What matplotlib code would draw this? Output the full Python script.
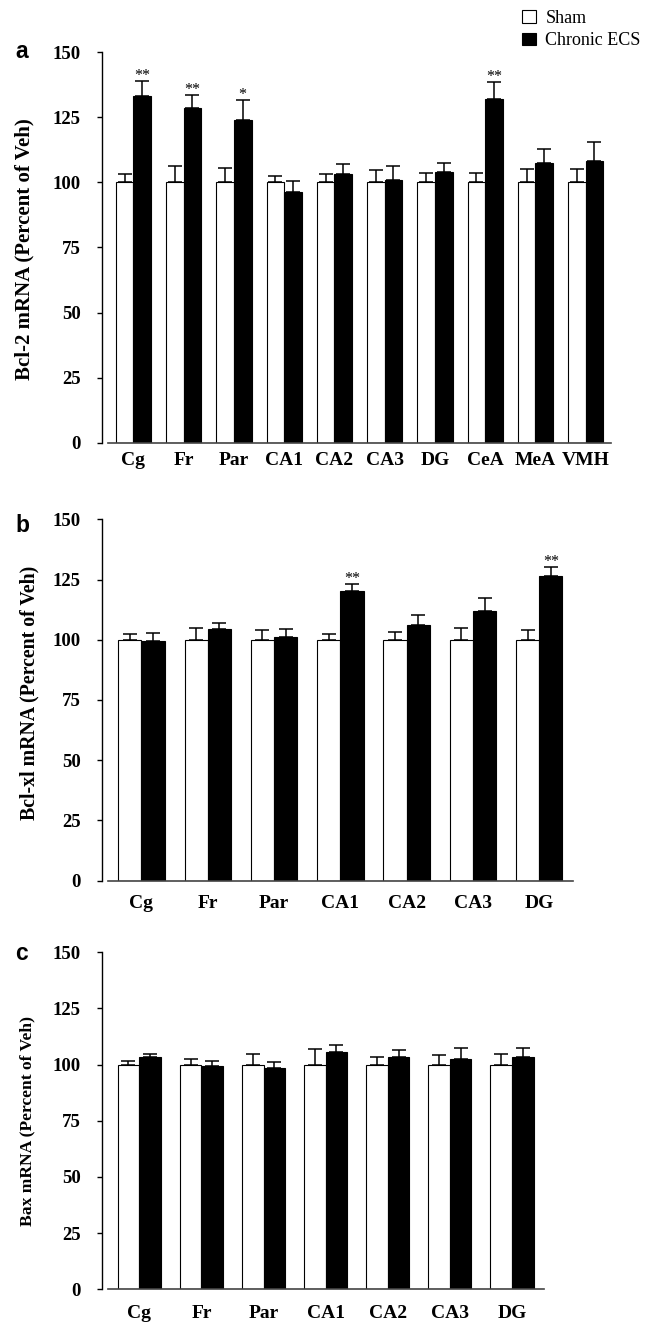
import matplotlib
matplotlib.use("Agg")
import matplotlib.pyplot as plt
from matplotlib.patches import Patch
import numpy as np

W, H = 659, 1323

# panel a: Bcl-2
cats_a = ["Cg", "Fr", "Par", "CA1", "CA2", "CA3", "DG", "CeA", "MeA", "VMH"]
sham_a = [100, 100, 100, 100, 100, 100, 100, 100, 100, 100]
sham_err_a = [3.4, 6.4, 5.5, 2.4, 3.4, 4.6, 3.7, 3.8, 5.1, 5.0]
ecs_a = [133.3, 128.6, 124.1, 96.2, 103.2, 101.1, 104.1, 132.2, 107.3, 108.3]
ecs_err_a = [5.6, 4.9, 7.6, 4.4, 3.7, 5.2, 3.4, 6.3, 5.4, 7.3]
sig_a = ["**", "**", "*", "", "", "", "", "**", "", ""]

# panel b: Bcl-xl
cats_b = ["Cg", "Fr", "Par", "CA1", "CA2", "CA3", "DG"]
sham_b = [100, 100, 100, 100, 100, 100, 100]
sham_err_b = [2.5, 4.8, 4.0, 2.3, 3.4, 4.7, 4.1]
ecs_b = [99.5, 104.4, 101.2, 120.1, 106.0, 112.1, 126.4]
ecs_err_b = [3.5, 2.6, 3.2, 3.0, 4.2, 5.2, 3.8]
sig_b = ["", "", "", "**", "", "", "**"]

# panel c: Bax
cats_c = ["Cg", "Fr", "Par", "CA1", "CA2", "CA3", "DG"]
sham_c = [100, 100, 100, 100, 100, 100, 100]
sham_err_c = [1.5, 2.4, 4.6, 7.0, 3.3, 4.5, 4.6]
ecs_c = [103.4, 99.3, 98.5, 105.7, 103.4, 102.4, 103.4]
ecs_err_c = [1.2, 2.2, 2.5, 2.9, 3.3, 5.2, 3.9]
sig_c = ["", "", "", "", "", "", ""]

yticks = [0, 25, 50, 75, 100, 125, 150]
legend_labels = ["Sham", "Chronic ECS"]

SERIF = "Liberation Serif"
SANS = "Liberation Sans"


def box(x0, y0, x1, y1):
    # pixel box (top-left origin) -> figure fraction rect
    return [x0 / W, 1 - y1 / H, (x1 - x0) / W, (y1 - y0) / H]


def draw_panel(ax, cats, sham, sham_err, ecs, ecs_err, sig, xpad):
    # spines first: moving a spine resets the ticks of its axis
    for sp in ("top", "right"):
        ax.spines[sp].set_visible(False)
    ax.spines["left"].set_position(("outward", 4.7))
    ax.spines["left"].set_linewidth(1.0)
    ax.spines["bottom"].set_color("#444444")
    ax.spines["bottom"].set_linewidth(1.2)

    x = np.arange(len(cats))
    bw = 0.35
    zeros = np.zeros(len(cats))
    ax.bar(x - bw / 2, sham, bw, color="white", edgecolor="black", linewidth=0.8,
           yerr=[zeros, sham_err], capsize=4.8,
           error_kw=dict(ecolor="black", elinewidth=1.1, capthick=1.1))
    ax.bar(x + bw / 2, ecs, bw, color="black", edgecolor="black", linewidth=0.8,
           yerr=[zeros, ecs_err], capsize=5.2,
           error_kw=dict(ecolor="black", elinewidth=1.1, capthick=1.1))
    for i, s in enumerate(sig):
        if s:
            ax.annotate(s, (x[i] + bw / 2, ecs[i] + ecs_err[i]), xytext=(0, 1),
                        textcoords="offset points", ha="center", va="baseline",
                        fontsize=11.5, family=SERIF)
    ax.set_xlim(-0.5, len(cats) - 0.49)
    ax.set_ylim(0, 150)
    ax.tick_params(axis="y", length=3.6, width=1.0, pad=11.5, direction="out")
    ax.tick_params(axis="x", length=0, pad=xpad)
    ax.set_yticks(yticks)
    ax.set_xticks(x)
    ax.set_xticklabels(cats, fontsize=14, fontweight="bold", family=SERIF)
    ax.set_yticklabels([str(t) for t in yticks], fontsize=13.5, fontweight="bold", family=SERIF)
    ax.patch.set_alpha(0)


fig = plt.figure(figsize=(W / 100, H / 100), dpi=100)

ax_a = fig.add_axes(box(108.3, 52.3, 611.3, 442.7))
draw_panel(ax_a, cats_a, sham_a, sham_err_a, ecs_a, ecs_err_a, sig_a, 6.5)

ax_b = fig.add_axes(box(108.3, 519.3, 573.0, 880.7))
draw_panel(ax_b, cats_b, sham_b, sham_err_b, ecs_b, ecs_err_b, sig_b, 10.5)

ax_c = fig.add_axes(box(108.3, 952.3, 543.5, 1289.3))
draw_panel(ax_c, cats_c, sham_c, sham_err_c, ecs_c, ecs_err_c, sig_c, 11)

# y labels
fig.text(24 / W, 1 - 249 / H, "Bcl-2 mRNA (Percent of Veh)", rotation=90,
         ha="center", va="center", fontsize=15, fontweight="bold", family=SERIF)
fig.text(29 / W, 1 - 693 / H, "Bcl-xl mRNA (Percent of Veh)", rotation=90,
         ha="center", va="center", fontsize=14.3, fontweight="bold", family=SERIF)
fig.text(27 / W, 1 - 1121 / H, "Bax mRNA (Percent of Veh)", rotation=90,
         ha="center", va="center", fontsize=12.6, fontweight="bold", family=SERIF)

# panel letters
fig.text(15 / W, 1 - 58.3 / H, "a", ha="left", va="baseline", fontsize=16.5,
         fontweight="bold", family=SANS)
fig.text(15 / W, 1 - 531.7 / H, "b", ha="left", va="baseline", fontsize=16.5,
         fontweight="bold", family=SANS)
fig.text(15 / W, 1 - 960 / H, "c", ha="left", va="baseline", fontsize=16.5,
         fontweight="bold", family=SANS)

handles = [Patch(facecolor="white", edgecolor="black", linewidth=0.8),
           Patch(facecolor="black", edgecolor="black", linewidth=0.8)]
fig.legend(handles, legend_labels, loc="upper left", bbox_to_anchor=(522 / W, 1 - 10 / H),
           frameon=False, prop=dict(family=SERIF, size=13), handlelength=0.8,
           handleheight=0.7, handletextpad=0.5, labelspacing=0.3, borderpad=0,
           borderaxespad=0)

fig.savefig("out.png", dpi=100)
